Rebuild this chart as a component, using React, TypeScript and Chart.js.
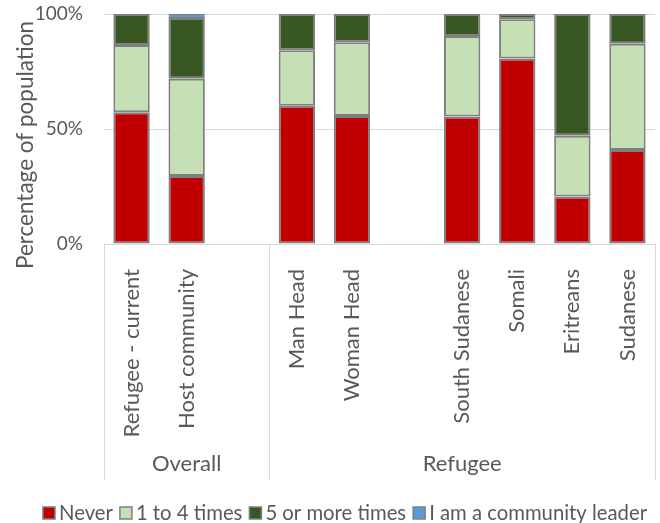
import React, { useEffect, useRef } from "react";
import { Chart, registerables } from "chart.js";

Chart.register(...registerables);

const categories = [
  "Refugee - current",
  "Host community",
  "",
  "Man Head",
  "Woman Head",
  "",
  "South Sudanese",
  "Somali",
  "Eritreans",
  "Sudanese",
];
const groupNames = ["Overall", "Refugee"];
const groupSizes = [3, 7];

const never = [57.3, 29.6, null, 60.1, 55.7, null, 55.4, 80.6, 20.6, 40.9];
const oneToFour = [29.2, 42.3, null, 24.1, 32.0, null, 35.0, 17.1, 26.5, 46.2];
const fiveOrMore = [13.5, 26.4, null, 15.8, 12.3, null, 9.6, 2.3, 52.9, 12.9];
const leader = [0, 1.7, null, 0, 0, null, 0, 0, 0, 0];

const seriesNames = ["Never", "1 to 4 times", "5 or more times", "I am a community leader"];
const seriesColors = ["#C00000", "#C5E0B4", "#385723", "#5B9BD5"];

const yTicks = [0, 50, 100];
const yTitle = "Percentage of population";

const FONT = "Lato";
const TEXT = "#595959";
const GRID = "#D9D9D9";
const BORDER = "#7F7F7F";

const decorPlugin = {
  id: "decor",
  afterDraw(chart: any) {
    const { ctx, chartArea } = chart;
    const x = chart.scales.x;
    const n = categories.length;
    const slot = (chartArea.right - chartArea.left) / n;
    ctx.save();
    // group dividers
    ctx.strokeStyle = GRID;
    ctx.lineWidth = 1;
    let idx = 0;
    const bounds = [0];
    groupSizes.forEach((s) => {
      idx += s;
      bounds.push(idx);
    });
    bounds.forEach((b) => {
      const px = Math.round(chartArea.left + b * slot) + 0.5;
      ctx.beginPath();
      ctx.moveTo(px, chartArea.bottom);
      ctx.lineTo(px, x.bottom);
      ctx.stroke();
    });
    // group labels
    ctx.fillStyle = TEXT;
    ctx.font = `22px ${FONT}`;
    ctx.textAlign = "center";
    ctx.textBaseline = "middle";
    groupNames.forEach((g, i) => {
      const cx = chartArea.left + ((bounds[i] + bounds[i + 1]) / 2) * slot;
      ctx.fillText(g, cx, x.bottom - 16);
    });
    // y title
    ctx.save();
    ctx.font = `22.5px ${FONT}`;
    ctx.textBaseline = "alphabetic";
    ctx.textAlign = "center";
    ctx.translate(33, 145);
    ctx.rotate(-Math.PI / 2);
    ctx.fillText(yTitle, 0, 0);
    ctx.restore();
    // legend
    ctx.font = `20.3px ${FONT}`;
    ctx.textAlign = "left";
    ctx.textBaseline = "middle";
    const box = 12;
    const gapBoxText = 4;
    const gapItem = 7;
    const widths = seriesNames.map((s) => ctx.measureText(s).width);
    const total =
      widths.reduce((a, b) => a + b, 0) +
      seriesNames.length * (box + gapBoxText) +
      (seriesNames.length - 1) * gapItem;
    let lx = 345 - total / 2;
    const ly = 513;
    seriesNames.forEach((s, i) => {
      ctx.fillStyle = seriesColors[i];
      ctx.fillRect(lx, ly - box / 2, box, box);
      ctx.strokeStyle = BORDER;
      ctx.lineWidth = 1.5;
      ctx.strokeRect(lx, ly - box / 2, box, box);
      ctx.fillStyle = TEXT;
      ctx.fillText(s, lx + box + gapBoxText, ly);
      lx += box + gapBoxText + widths[i] + gapItem;
    });
    ctx.restore();
  },
};

export default function App() {
  const ref = useRef<HTMLCanvasElement | null>(null);
  useEffect(() => {
    if (!ref.current) return;
    const ds = (i: number, data: any[], bw = 2) => ({
      label: seriesNames[i],
      data,
      backgroundColor: seriesColors[i],
      borderColor: BORDER,
      borderWidth: bw,
      borderSkipped: false,
      barPercentage: 0.66,
      categoryPercentage: 1,
    });
    const chart = new Chart(ref.current, {
      type: "bar",
      data: {
        labels: categories,
        datasets: [ds(0, never), ds(1, oneToFour), ds(2, fiveOrMore), ds(3, leader, 1)],
      },
      options: {
        animation: false,
        responsive: false,
        maintainAspectRatio: false,
        layout: { padding: { top: 14, right: 5, bottom: 43, left: 0 } },
        plugins: {
          tooltip: { enabled: false },
          legend: { display: false },
        },
        scales: {
          x: {
            stacked: true,
            grid: { display: false },
            border: { display: false },
            ticks: {
              autoSkip: false,
              minRotation: 90,
              maxRotation: 90,
              padding: 17,
              font: { family: FONT, size: 22 },
              color: TEXT,
            },
            afterFit: (s: any) => {
              s.height = 236;
              s.paddingLeft = 0;
              s.paddingRight = 0;
            },
          },
          y: {
            stacked: true,
            min: 0,
            max: 100,
            afterBuildTicks: (s: any) => {
              s.ticks = yTicks.map((v) => ({ value: v }));
            },
            grid: { color: GRID, drawTicks: false },
            border: { display: false },
            ticks: {
              padding: 21,
              font: { family: FONT, size: 19 },
              color: TEXT,
              callback: (v: any) => `${v}%`,
            },
            afterFit: (s: any) => {
              s.width = 104;
              s.paddingTop = 0;
              s.paddingBottom = 0;
            },
          },
        },
      },
      plugins: [decorPlugin],
    });
    return () => chart.destroy();
  }, []);
  return (
    <div style={{ position: "absolute", left: 0, top: 0, width: 660, height: 523 }}>
      <canvas ref={ref} width={660} height={523} />
    </div>
  );
}
